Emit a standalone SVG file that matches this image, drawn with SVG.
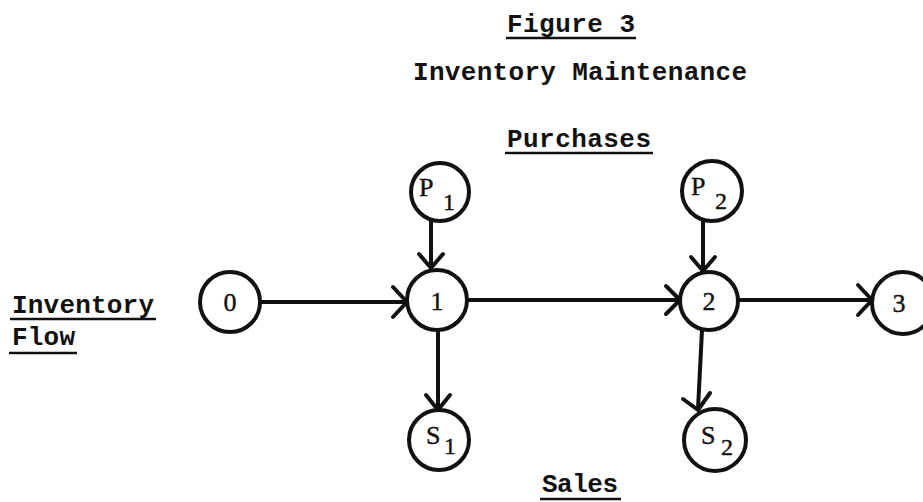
<svg xmlns="http://www.w3.org/2000/svg" width="923" height="502" viewBox="0 0 923 502">
  <defs>
    <style>
      .bg { fill: #ffffff; }
      .label { font-family: "Liberation Mono", "DejaVu Sans Mono", monospace; font-size: 26px; font-weight: bold; fill: #111; }
      .uline { stroke: #111; stroke-width: 2.5; }
      .node circle { fill: #ffffff; stroke: #111; stroke-width: 4; }
      .node text { font-family: "Liberation Serif", "DejaVu Serif", serif; font-size: 26px; fill: #111; stroke: #111; stroke-width: 0.4; }
      .node .sub { font-size: 24px; }
      .edge { stroke: #111; stroke-width: 4; fill: none; stroke-linecap: round; stroke-linejoin: round; }
    </style>
  </defs>

  <rect class="bg" x="0" y="0" width="923" height="502"/>

  <!-- headings -->
  <g id="headings">
    <text class="label" x="507" y="32" textLength="128">Figure 3</text>
    <line class="uline" x1="506" y1="38" x2="636" y2="38"/>
    <text class="label" x="413" y="80" textLength="334">Inventory Maintenance</text>
    <text class="label" x="507" y="147" textLength="144">Purchases</text>
    <line class="uline" x1="505" y1="153" x2="653" y2="153"/>
    <text class="label" x="12" y="313" textLength="142">Inventory</text>
    <line class="uline" x1="10" y1="319" x2="156" y2="319"/>
    <text class="label" x="12" y="345" textLength="63">Flow</text>
    <line class="uline" x1="9" y1="353" x2="77" y2="353"/>
    <text class="label" x="542" y="492" textLength="76">Sales</text>
    <line class="uline" x1="540" y1="499" x2="621" y2="499"/>
  </g>

  <!-- connectors -->
  <g id="connectors">
    <!-- 0 -> 1 -->
    <path class="edge" d="M261,302 H406"/>
    <path class="edge" d="M393,287 L407,302 L393,317"/>
    <!-- 1 -> 2 -->
    <path class="edge" d="M467,300 H679"/>
    <path class="edge" d="M666,286 L680,300 L666,314"/>
    <!-- 2 -> 3 -->
    <path class="edge" d="M738,300 H871"/>
    <path class="edge" d="M858,285 L872,300 L858,315"/>
    <!-- P1 -> 1 -->
    <path class="edge" d="M431,221 V268"/>
    <path class="edge" d="M419,254 L431,268 L443,254"/>
    <!-- 1 -> S1 -->
    <path class="edge" d="M438,330 V409"/>
    <path class="edge" d="M426,395 L438,410 L450,395"/>
    <!-- P2 -> 2 -->
    <path class="edge" d="M703,221 V271"/>
    <path class="edge" d="M691,257 L703,271 L715,257"/>
    <!-- 2 -> S2 -->
    <path class="edge" d="M702,330 L698,409"/>
    <path class="edge" d="M683,399 L698,410 L710,393"/>
  </g>

  <!-- nodes -->
  <g id="node-0" class="node">
    <circle cx="230" cy="302" r="30"/>
    <text x="230" y="311" text-anchor="middle">0</text>
  </g>
  <g id="node-1" class="node">
    <circle cx="437" cy="300" r="30"/>
    <text x="437" y="310" text-anchor="middle">1</text>
  </g>
  <g id="node-2" class="node">
    <circle cx="709" cy="301" r="29"/>
    <text x="709" y="310" text-anchor="middle">2</text>
  </g>
  <g id="node-3" class="node">
    <circle cx="903" cy="303" r="31"/>
    <text x="899" y="312" text-anchor="middle">3</text>
  </g>
  <g id="node-P1" class="node">
    <circle cx="440" cy="192" r="29"/>
    <text x="419" y="196">P<tspan class="sub" x="443" y="210">1</tspan></text>
  </g>
  <g id="node-P2" class="node">
    <circle cx="712" cy="191" r="30"/>
    <text x="691" y="195">P<tspan class="sub" x="715" y="209">2</tspan></text>
  </g>
  <g id="node-S1" class="node">
    <circle cx="439" cy="440" r="30"/>
    <text x="426" y="444">S<tspan class="sub" x="444" y="454">1</tspan></text>
  </g>
  <g id="node-S2" class="node">
    <circle cx="715" cy="440" r="31"/>
    <text x="701" y="444">S<tspan class="sub" x="721" y="455">2</tspan></text>
  </g>
</svg>
